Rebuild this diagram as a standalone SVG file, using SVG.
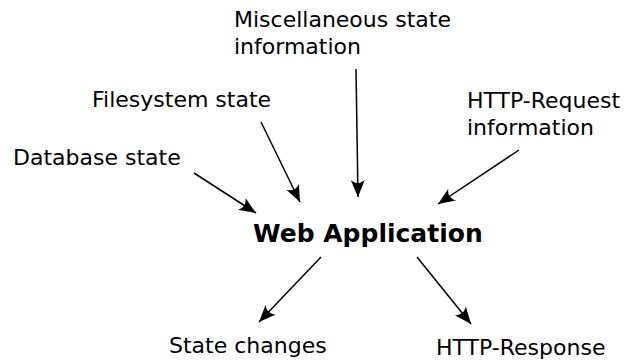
<svg xmlns="http://www.w3.org/2000/svg" width="624" height="362" viewBox="0 0 624 362">
<style>
.t{font-family:"DejaVu Sans",Verdana,sans-serif;font-size:22px;fill:#000}
.b{font-family:"DejaVu Sans",Verdana,sans-serif;font-size:25px;font-weight:bold;fill:#000}
.c{stroke:#000;stroke-width:1.5;fill:none;marker-end:url(#ah)}
</style>
<defs>
<marker id="ah" markerUnits="userSpaceOnUse" markerWidth="24" markerHeight="20" refX="0" refY="0" viewBox="-20 -10 24 20" orient="auto" overflow="visible">
<path d="M0,0 L-17,-7 C-13,-2.5 -13,2.5 -17,7 Z" fill="#000"/>
</marker>
</defs>
<g id="connectors">
<line class="c" x1="194" y1="173" x2="256" y2="213"/>
<line class="c" x1="261" y1="122" x2="300" y2="202"/>
<line class="c" x1="356" y1="69" x2="358" y2="197"/>
<line class="c" x1="519" y1="150" x2="438" y2="204"/>
<line class="c" x1="321" y1="257" x2="259" y2="322"/>
<line class="c" x1="417" y1="257" x2="471" y2="324"/>
</g>
<g id="misc"><text class="t" x="234" y="27">Miscellaneous state</text><text class="t" x="234" y="54">information</text></g>
<g id="filesystem"><text class="t" x="92" y="107">Filesystem state</text></g>
<g id="http-request"><text class="t" x="467" y="108">HTTP-Request</text><text class="t" x="467" y="135">information</text></g>
<g id="database"><text class="t" x="13" y="165">Database state</text></g>
<g id="webapp"><text class="b" x="253" y="242">Web Application</text></g>
<g id="state-changes"><text class="t" x="169" y="353">State changes</text></g>
<g id="http-response"><text class="t" x="436" y="355">HTTP-Response</text></g>
</svg>
